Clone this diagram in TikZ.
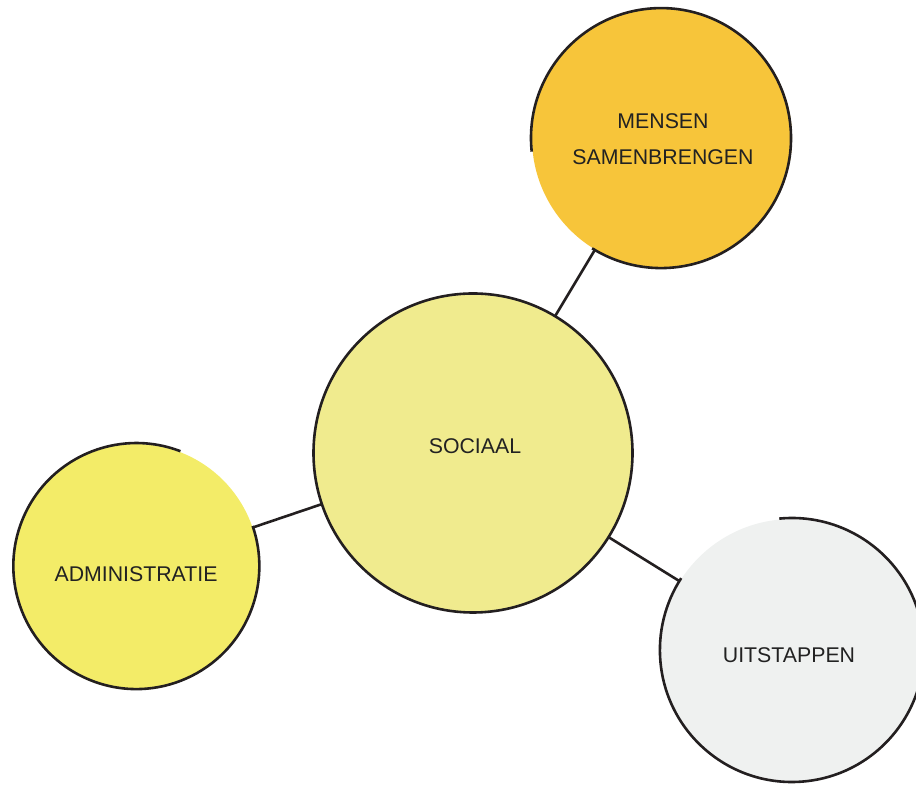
\documentclass[tikz,border=0pt]{standalone}
\usepackage{fontspec}
\setmainfont{Liberation Sans}
\definecolor{ink}{HTML}{231F20}
\definecolor{txt}{HTML}{222222}
\definecolor{cmen}{HTML}{F7C53A}
\definecolor{csoc}{HTML}{F0EB8E}
\definecolor{cadm}{HTML}{F3EC68}
\definecolor{cuit}{HTML}{EFF1F0}
\begin{document}
\begin{tikzpicture}[x=1pt,y=1pt,
  bubble/.style={circle,inner sep=0pt,draw=none},
  rim/.style={draw=ink,line width=2.6pt},
  lbl/.style={font=\fontsize{21.3}{35.5}\selectfont,text=txt,align=center,inner sep=0pt},
  link/.style={draw=ink,line width=2.6pt}]
\useasboundingbox (0,0) rectangle (916,789);
% bubbles (image y -> 789 - y)
\node[bubble,fill=csoc,minimum size=319pt] (soc) at (473,336) {};
\node[bubble,fill=cmen,minimum size=260pt] (men) at (662,651) {};
\node[bubble,fill=cadm,minimum size=246pt] (adm) at (136,222) {};
\node[bubble,fill=cuit,minimum size=264pt] (uit) at (792,138) {};
% outlines
\draw[rim] (soc) circle[radius=159.5pt];
\draw[rim] (men.center) ++(186:131) arc[start angle=186,end angle=-122,radius=130];
\draw[rim] (adm.center) ++(69:124) arc[start angle=69,end angle=379,radius=123];
\draw[rim] (uit.center) ++(95.5:133) arc[start angle=95.5,end angle=-213,radius=132];
% connectors
\draw[link] (soc) -- (men);
\draw[link] (adm) -- (soc);
\draw[link] (soc) -- (uit);
% labels
\node[lbl] (tsoc) at (475,343) {SOCIAAL};
\node[lbl] (tmen) at (663,650) {MENSEN\\SAMENBRENGEN};
\node[lbl] (tadm) at (136,215) {ADMINISTRATIE};
\node[lbl] (tuit) at (789,134) {UITSTAPPEN};
\end{tikzpicture}
\end{document}
